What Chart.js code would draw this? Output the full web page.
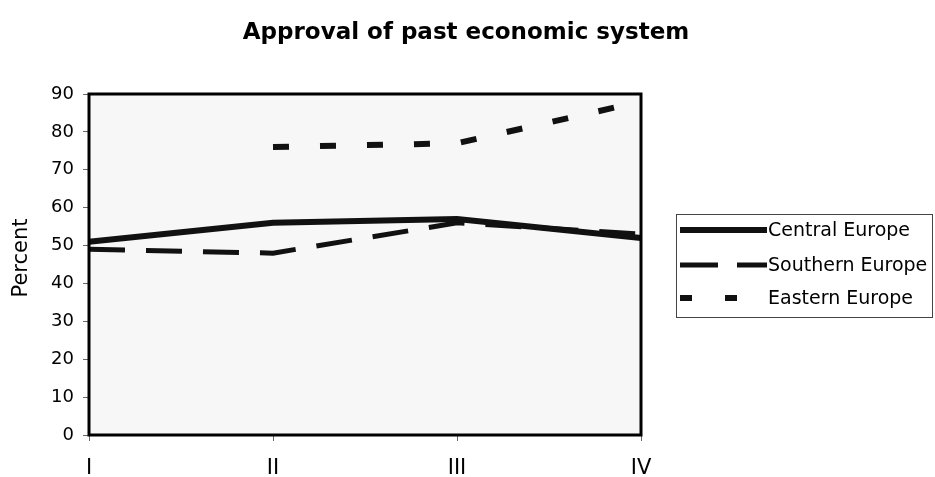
<!DOCTYPE html>
<html><head><meta charset="utf-8">
<script src="https://cdn.jsdelivr.net/npm/chart.js@4.4.1/dist/chart.umd.min.js"></script>
<style>html,body{margin:0;padding:0;background:#fff;overflow:hidden}canvas{display:block}</style>
</head><body>
<canvas id="c" width="935" height="477"></canvas>
<script>
const chartTitle = 'Approval of past economic system';
const yAxisTitle = 'Percent';
const categories = ['I', 'II', 'III', 'IV'];
const seriesNames = ['Central Europe', 'Southern Europe', 'Eastern Europe'];
const centralEurope = [51, 56, 57, 52];
const southernEurope = [49, 48, 56, 53];
const easternEurope = [null, 76, 77, 88];
const yMin = 0, yMax = 90, yStep = 10;

const FONT = "'DejaVu Sans', sans-serif";

const frameAndLegend = {
  id: 'frameAndLegend',
  beforeDatasetsDraw(chart) {
    const a = chart.chartArea, ctx = chart.ctx;
    ctx.save();
    ctx.fillStyle = '#f7f7f7';
    ctx.fillRect(a.left, a.top, a.right - a.left, a.bottom - a.top);
    ctx.restore();
  },
  afterDatasetsDraw(chart) {
    const a = chart.chartArea, ctx = chart.ctx;
    ctx.save();
    ctx.strokeStyle = '#000';
    ctx.lineWidth = 3;
    ctx.strokeRect(a.left, a.top, a.right - a.left, a.bottom - a.top);
    // title
    ctx.fillStyle = '#000';
    ctx.font = "bold 23px " + FONT;
    ctx.textAlign = 'center';
    ctx.textBaseline = 'middle';
    ctx.fillText(chartTitle, 466, 33);
    // y axis title
    ctx.save();
    ctx.translate(22, 258);
    ctx.rotate(-Math.PI / 2);
    ctx.font = "21px " + FONT;
    ctx.textAlign = 'center';
    ctx.textBaseline = 'middle';
    ctx.fillText(yAxisTitle, 0, 0);
    ctx.restore();
    // legend
    const bx = 676, by = 214, bw = 256, bh = 103;
    ctx.lineWidth = 1;
    ctx.strokeStyle = '#444';
    ctx.strokeRect(bx + 0.5, by + 0.5, bw, bh);
    const rows = [230, 265, 298];
    chart.data.datasets.forEach((ds, i) => {
      const y = rows[i];
      ctx.save();
      ctx.strokeStyle = ds.borderColor;
      ctx.lineWidth = ds.borderWidth;
      ctx.setLineDash(ds.legendDash || []);
      ctx.lineCap = 'butt';
      ctx.beginPath();
      ctx.moveTo(680, y);
      ctx.lineTo(767, y);
      ctx.stroke();
      ctx.restore();
      ctx.fillStyle = '#000';
      ctx.font = "19px " + FONT;
      ctx.textAlign = 'left';
      ctx.textBaseline = 'middle';
      ctx.fillText(ds.label, 768, y + 1);
    });
    ctx.restore();
  }
};

new Chart(document.getElementById('c'), {
  type: 'line',
  data: {
    labels: categories,
    datasets: [
      { label: seriesNames[0], data: centralEurope, borderColor: '#111', borderWidth: 6, pointRadius: 0, tension: 0, legendDash: [] },
      { label: seriesNames[1], data: southernEurope, borderColor: '#111', borderWidth: 5, borderDash: [36, 21], pointRadius: 0, tension: 0, legendDash: [38, 19] },
      { label: seriesNames[2], data: easternEurope, borderColor: '#111', borderWidth: 6, borderDash: [16, 31], pointRadius: 0, tension: 0, legendDash: [12, 33] }
    ]
  },
  options: {
    responsive: false,
    animation: false,
    devicePixelRatio: 1,
    layout: { padding: { top: 94, right: 294, bottom: 0, left: 0 } },
    plugins: { legend: { display: false }, title: { display: false }, tooltip: { enabled: false } },
    scales: {
      x: {
        offset: false,
        grid: { display: true, drawOnChartArea: false, drawTicks: true, tickLength: 6, color: '#666', lineWidth: 1 },
        border: { display: false },
        ticks: { color: '#000', font: { family: FONT, size: 21 }, padding: 15, maxRotation: 0, autoSkip: false },
        afterFit(s) { s.height = 42; }
      },
      y: {
        min: yMin, max: yMax,
        grid: { display: true, drawOnChartArea: false, drawTicks: true, tickLength: 6, color: '#666', lineWidth: 1 },
        border: { display: false },
        ticks: { stepSize: yStep, color: '#000', font: { family: FONT, size: 18 }, padding: 9 },
        title: { display: false },
        afterFit(s) { s.width = 89; }
      }
    }
  },
  plugins: [frameAndLegend]
});
</script>
</body></html>
